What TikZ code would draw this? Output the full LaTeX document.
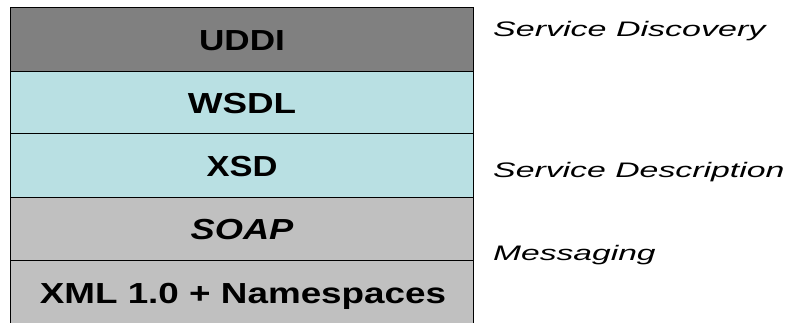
\documentclass[tikz,border=0pt]{standalone}
\usepackage{fontspec}
\setmainfont{Liberation Sans}
\usepackage{graphicx}
\definecolor{uddigray}{RGB}{128,128,128}
\definecolor{desccyan}{RGB}{185,224,227}
\definecolor{msggray}{RGB}{192,192,192}
\begin{document}
\begin{tikzpicture}[x=1pt,y=-1pt,
  layer/.style={draw=black, line width=1pt, rectangle, minimum width=463pt,
    inner sep=0pt, text height=20.8pt, text depth=0pt,
    font=\fontsize{29}{29}\selectfont\bfseries},
  sidelabel/.style={anchor=base west, inner sep=0pt,
    font=\fontsize{21}{21}\selectfont\itshape}]
\useasboundingbox (0,0) rectangle (790,323);
\clip (0,0) rectangle (790,323);
\node[layer, fill=uddigray, minimum height=64pt] (uddi) at (242,40) {\scalebox{1.21}[1]{UDDI}};
\node[layer, fill=desccyan, minimum height=62pt] (wsdl) at (242,103) {\scalebox{1.27}[1]{WSDL}};
\node[layer, fill=desccyan, minimum height=64pt] (xsd) at (242,166) {\scalebox{1.19}[1]{XSD}};
\node[layer, fill=msggray, minimum height=63pt] (soap) at (242,229.5) {\scalebox{1.25}[1]{\itshape SOAP}};
\node[layer, fill=msggray, minimum height=64pt] (xml) at (242,293) {\hspace*{2pt}\scalebox{1.27}[1]{XML 1.0 + Namespaces}};
\node[sidelabel] (disc) at (493,37) {\scalebox{1.62}[1]{Service Discovery}};
\node[sidelabel] (desc) at (493,178) {\scalebox{1.61}[1]{Service Description}};
\node[sidelabel] (msg) at (493,261) {\scalebox{1.6}[1]{Messaging}};
\end{tikzpicture}
\end{document}
